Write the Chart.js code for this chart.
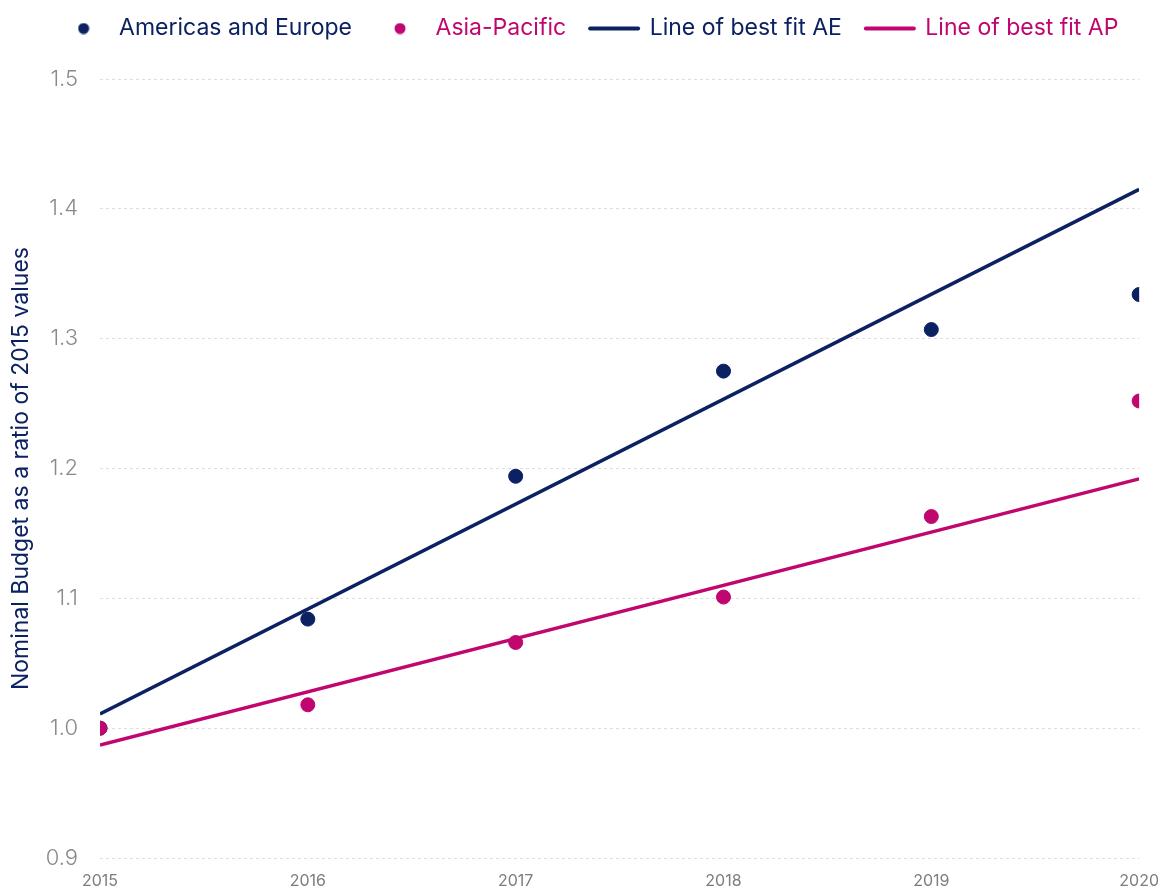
<!DOCTYPE html>
<html>
<head>
<meta charset="utf-8">
<script src="https://cdn.jsdelivr.net/npm/chart.js@4"></script>
<style>
  html, body { margin: 0; padding: 0; background: #fff; }
  #wrap { width: 1165px; height: 888px; }
</style>
</head>
<body>
<div id="wrap"><canvas id="grafica"></canvas></div>
<script>
const years = [2015, 2016, 2017, 2018, 2019, 2020];
const americasEurope = [1.0, 1.084, 1.194, 1.275, 1.307, 1.334];
const asiaPacific = [1.0, 1.018, 1.066, 1.101, 1.163, 1.252];
const fitYears = [2015, 2020];
const fitAE = [1.011, 1.415];
const fitAP = [0.987, 1.192];
const yTicks = [0.9, 1.0, 1.1, 1.2, 1.3, 1.4, 1.5];

const navy = '#0b2161';
const magenta = '#c0076f';

const pts = (xs, ys) => xs.map((x, i) => ({ x: x, y: ys[i] }));

// small circle used as legend marker, drawn in a box as wide as the line markers
function dot(color) {
  const c = document.createElement('canvas');
  c.width = 12; c.height = 12;
  const g = c.getContext('2d');
  g.fillStyle = color;
  g.beginPath();
  g.arc(6, 6, 5.5, 0, Math.PI * 2);
  g.fill();
  return c;
}

// extra space under the legend, and nudge it right a bit
const legendMargin = {
  id: 'legendMargin',
  beforeInit(chart) {
    const lg = chart.legend;
    const fit = lg.fit;
    const draw = lg.draw;
    lg.fit = function () {
      fit.call(lg);
      this.height += 32;
    };
    lg.draw = function () {
      const c = chart.ctx;
      c.save();
      c.translate(19, 3);
      draw.call(lg);
      c.restore();
    };
  }
};

const ctx = document.getElementById('grafica').getContext('2d');
const grafica = new Chart(ctx, {
  type: 'scatter',
  data: {
    datasets: [{
      label: 'Americas and Europe',
      data: pts(years, americasEurope),
      backgroundColor: navy,
      borderColor: navy,
      pointRadius: 7,
      pointHoverRadius: 7,
      order: 2,
      legendDot: dot(navy)
    }, {
      label: 'Asia-Pacific',
      data: pts(years, asiaPacific),
      backgroundColor: magenta,
      borderColor: magenta,
      pointRadius: 7,
      pointHoverRadius: 7,
      order: 1,
      legendDot: dot(magenta)
    }, {
      label: 'Line of best fit AE',
      data: pts(fitYears, fitAE),
      showLine: true,
      borderColor: navy,
      backgroundColor: navy,
      borderWidth: 3.5,
      pointRadius: 0,
      order: 3
    }, {
      label: 'Line of best fit AP',
      data: pts(fitYears, fitAP),
      showLine: true,
      borderColor: magenta,
      backgroundColor: magenta,
      borderWidth: 3.5,
      pointRadius: 0,
      order: 3
    }]
  },
  options: {
    responsive: true,
    maintainAspectRatio: false,
    animation: false,
    layout: { padding: { left: 0, right: 25, top: -10, bottom: 0 } },
    plugins: {
      tooltip: { enabled: false },
      legend: {
        position: 'top',
        labels: {
          usePointStyle: true,
          pointStyleWidth: 48,
          padding: 24,
          font: { family: 'Inter', size: 23 },
          generateLabels: (chart) => chart.data.datasets.map((ds, i) => ({
            text: ds.label,
            datasetIndex: i,
            fontColor: ds.borderColor,
            fillStyle: ds.borderColor,
            strokeStyle: ds.borderColor,
            lineWidth: ds.showLine ? 4 : 0,
            lineCap: 'round',
            pointStyle: ds.showLine ? 'line' : ds.legendDot,
            hidden: false
          }))
        }
      }
    },
    scales: {
      x: {
        type: 'linear',
        min: 2015,
        max: 2020,
        grid: { display: false },
        border: { display: false },
        afterBuildTicks: (axis) => { axis.ticks = years.map(v => ({ value: v })); },
        afterFit: (axis) => { axis.height = 30; },
        ticks: {
          color: '#7d7d7d',
          font: { family: 'Inter', size: 16 },
          padding: 6,
          maxRotation: 0,
          callback: (v) => String(v)
        }
      },
      y: {
        min: 0.9,
        max: 1.5,
        afterBuildTicks: (axis) => { axis.ticks = yTicks.map(v => ({ value: v })); },
        afterFit: (axis) => {
          axis.width = 100;
          axis.paddingTop = 0;
          axis.paddingBottom = 0;
        },
        grid: { color: '#dedede', drawTicks: false, lineWidth: 1 },
        border: { display: false, dash: [3, 3] },
        ticks: {
          color: '#8a8a8a',
          font: { family: 'Inter', size: 22, weight: 300 },
          padding: 22,
          callback: (v) => v.toFixed(1)
        },
        title: {
          display: true,
          text: 'Nominal Budget as a ratio of 2015 values',
          color: navy,
          font: { family: 'Inter', size: 23 },
          padding: { top: 7, bottom: 0 }
        }
      }
    }
  },
  plugins: [legendMargin]
});
</script>
</body>
</html>
